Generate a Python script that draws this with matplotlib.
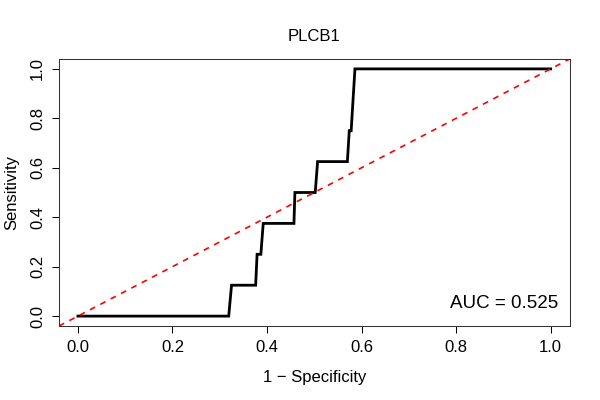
import matplotlib
matplotlib.use("Agg")
import matplotlib.pyplot as plt

# ROC curve points (1 - specificity, sensitivity)
fpr = [0.0, 0.319, 0.325, 0.376, 0.379, 0.387, 0.392, 0.457, 0.459,
       0.502, 0.507, 0.570, 0.574, 0.578, 0.586, 1.0]
tpr = [0.0, 0.0, 0.125, 0.125, 0.25, 0.25, 0.375, 0.375, 0.5,
       0.5, 0.625, 0.625, 0.75, 0.75, 1.0, 1.0]
ticks = [0.0, 0.2, 0.4, 0.6, 0.8, 1.0]
title = "PLCB1"
auc_text = "AUC = 0.525"

plt.rcParams['font.family'] = ['Liberation Sans', 'DejaVu Sans']

fig = plt.figure(figsize=(6, 4), dpi=100)
ax = fig.add_axes([0.0983, 0.185, 0.851, 0.6675])

ax.plot(fpr, tpr, color="black", lw=2.0, solid_joinstyle="miter")
ax.axline((0, 0), slope=1, color="red", lw=1.2, linestyle=(0, (3.5, 3.5)))

ax.set_xlim(-0.04, 1.04)
ax.set_ylim(-0.04, 1.04)
ax.set_xticks(ticks)
ax.set_yticks(ticks)
ax.set_xticklabels([f"{t:.1f}" for t in ticks])
ax.set_yticklabels([f"{t:.1f}" for t in ticks], rotation=90, va="center")
ax.tick_params(direction="out", length=5, width=0.75, labelsize=12, pad=5)

for s in ax.spines.values():
    s.set_linewidth(0.75)
    s.set_color("#333333")

ax.set_xlabel("1 \u2212 Specificity", fontsize=12, labelpad=11)
ax.set_ylabel("Sensitivity", fontsize=12, labelpad=8)
ax.set_title(title, fontsize=12, pad=13)

ax.text(1.017, 0.05, auc_text, ha="right", va="center", fontsize=13.5)

fig.savefig("out.png", dpi=100)
